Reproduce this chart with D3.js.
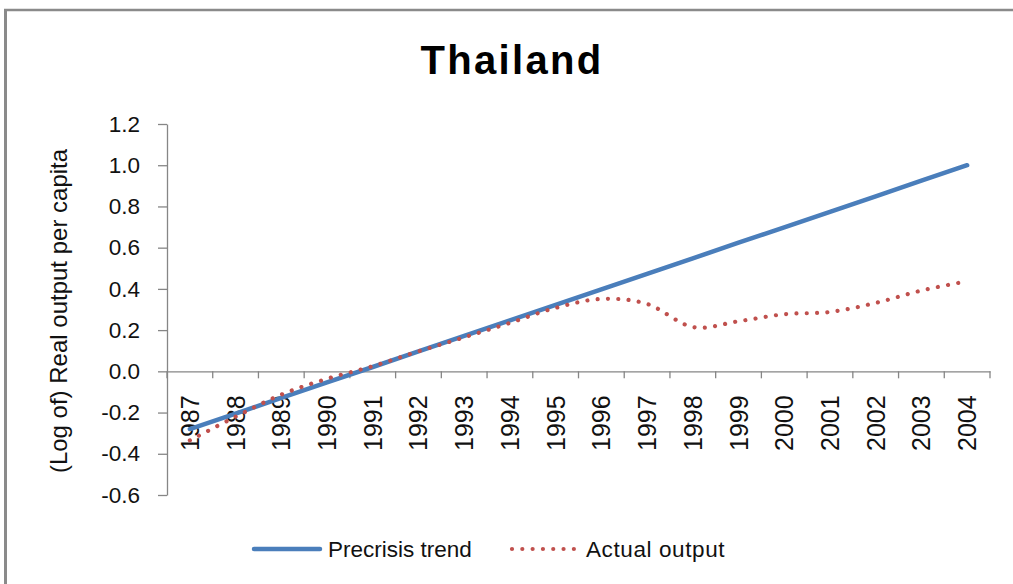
<!DOCTYPE html>
<html>
<head>
<meta charset="utf-8">
<script src="https://cdn.jsdelivr.net/npm/d3@7"></script>
<style>
  html, body { margin: 0; padding: 0; background: #fff; }
  svg { display: block; font-family: "Liberation Sans", Arial, sans-serif; }
</style>
</head>
<body>
<svg id="chart" width="1013" height="584"></svg>
<script>
const years = ["1987","1988","1989","1990","1991","1992","1993","1994","1995","1996","1997","1998","1999","2000","2001","2002","2003","2004"];
const precrisisTrend = [-0.28,-0.205,-0.129,-0.054,0.021,0.097,0.172,0.247,0.322,0.398,0.473,0.548,0.624,0.699,0.774,0.849,0.925,1.0];
const actualOutput = [-0.335,-0.22,-0.113,-0.036,0.025,0.097,0.165,0.235,0.308,0.351,0.327,0.215,0.243,0.277,0.288,0.332,0.392,0.437];
const yTicks = [-0.6,-0.4,-0.2,0.0,0.2,0.4,0.6,0.8,1.0,1.2];
const seriesNames = ["Precrisis trend","Actual output"];
const chartTitle = "Thailand";
const yTitle = "(Log of) Real output per capita";

const svg = d3.select("#chart");
const axisColor = "#868686";
const blue = "#4A7EBB";
const red = "#C0504D";

// frame (left and top edges visible)
svg.append("line").attr("x1",5.5).attr("x2",5.5).attr("y1",9).attr("y2",584)
  .attr("stroke","#8a8a8a").attr("stroke-width",3);
svg.append("line").attr("x1",4).attr("x2",1013).attr("y1",10).attr("y2",10)
  .attr("stroke","#8a8a8a").attr("stroke-width",2.5);

const x = d3.scaleBand().domain(years).range([167, 990]).padding(0);
const y = d3.scaleLinear().domain([-0.6, 1.2]).range([495, 124]);

// title
svg.append("text").attr("x",512).attr("y",74).attr("text-anchor","middle")
  .attr("font-size",40).attr("font-weight","bold").attr("letter-spacing",2.3)
  .attr("fill","#000").text(chartTitle);

// y axis
const fmt = v => (v < 0 ? "-" : "") + Math.abs(v).toFixed(1);
const yAxis = svg.append("g").attr("transform","translate(167,0)")
  .call(d3.axisLeft(y).tickValues(yTicks).tickSize(9).tickSizeOuter(0).tickPadding(18).tickFormat(fmt));
yAxis.select(".domain").attr("stroke",axisColor).attr("stroke-width",1.3);
yAxis.selectAll(".tick line").attr("stroke",axisColor).attr("stroke-width",1.3);
yAxis.selectAll(".tick text").attr("font-size",22.5).attr("fill","#111")
  .attr("font-family","'Liberation Sans', Arial, sans-serif");

// y title
svg.append("text").attr("transform","translate(67,311) rotate(-90)")
  .attr("text-anchor","middle").attr("font-size",24).attr("fill","#111").text(yTitle);

// x axis at y=0
const y0 = y(0);
const xAxis = svg.append("g").attr("transform",`translate(0,${y0})`)
  .call(d3.axisBottom(x).tickSize(0).tickSizeOuter(0));
xAxis.select(".domain").attr("stroke",axisColor).attr("stroke-width",1.3);
xAxis.selectAll(".tick text")
  .attr("transform","rotate(-90)")
  .attr("text-anchor","end")
  .attr("x",-24).attr("y",0).attr("dy","0.36em")
  .attr("font-size",25).attr("fill","#111")
  .attr("font-family","'Liberation Sans', Arial, sans-serif");
const boundaries = years.map(d => x(d)).concat([x.range()[1]]);
svg.append("g").selectAll("line").data(boundaries).join("line")
  .attr("x1",d=>d).attr("x2",d=>d).attr("y1",y0).attr("y2",y0+7)
  .attr("stroke",axisColor).attr("stroke-width",1.3);

const cx = d => x(d) + x.bandwidth()/2;

// precrisis trend
const lineTrend = d3.line().x((d,i)=>cx(years[i])).y(d=>y(d));
svg.append("path").datum(precrisisTrend).attr("d",lineTrend)
  .attr("fill","none").attr("stroke",blue).attr("stroke-width",4.5).attr("stroke-linecap","round");

// actual output (smoothed, round dots)
const lineActual = d3.line().x((d,i)=>cx(years[i])).y(d=>y(d)).curve(d3.curveCatmullRom.alpha(0));
svg.append("path").datum(actualOutput).attr("d",lineActual)
  .attr("fill","none").attr("stroke",red).attr("stroke-width",4.2)
  .attr("stroke-linecap","round").attr("stroke-dasharray","0.01 10.3");

// legend
const lg = svg.append("g");
lg.append("line").attr("x1",254).attr("x2",320).attr("y1",549).attr("y2",549)
  .attr("stroke",blue).attr("stroke-width",4.5).attr("stroke-linecap","round");
lg.append("text").attr("x",328).attr("y",557).attr("font-size",22.5).attr("fill","#111").text(seriesNames[0]);
lg.append("line").attr("x1",512).attr("x2",574).attr("y1",549).attr("y2",549)
  .attr("stroke",red).attr("stroke-width",4.2).attr("stroke-linecap","round").attr("stroke-dasharray","0.01 10.3");
lg.append("text").attr("x",586).attr("y",557).attr("font-size",22.5).attr("letter-spacing",0.6).attr("fill","#111").text(seriesNames[1]);
</script>
</body>
</html>
